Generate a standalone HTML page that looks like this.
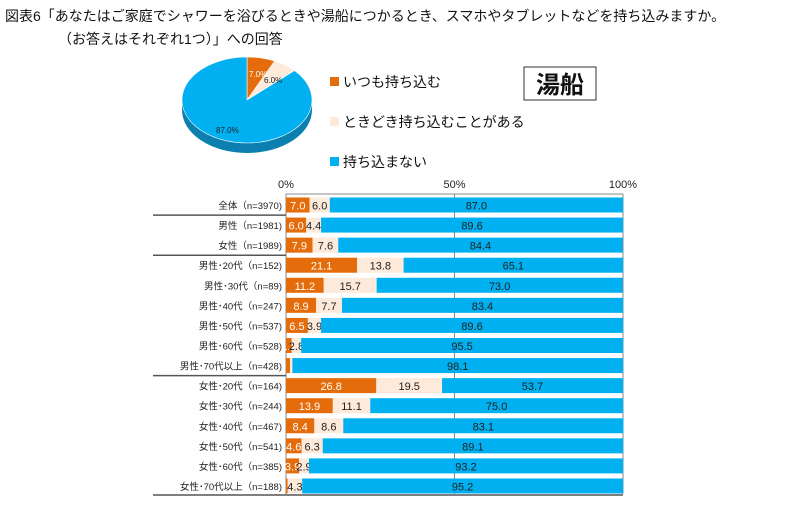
<!DOCTYPE html>
<html><head><meta charset="utf-8">
<style>
body{margin:0;background:#fff;width:808px;height:519px;overflow:hidden;font-family:"Liberation Sans","Noto Sans CJK JP",sans-serif;}
.t{position:absolute;font-size:14px;color:#111;white-space:nowrap}
</style></head><body>
<div class="t" style="left:5px;top:6px">図表6「あなたはご家庭でシャワーを浴びるときや湯船につかるとき、スマホやタブレットなどを持ち込みますか。</div>
<div class="t" style="left:58px;top:29px">（お答えはそれぞれ1つ）」への回答</div>
<svg id="c" width="808" height="519" style="position:absolute;left:0;top:0"></svg>
<script>
const cats=["全体（n=3970)","男性（n=1981)","女性（n=1989)","男性･20代（n=152)","男性･30代（n=89)","男性･40代（n=247)","男性･50代（n=537)","男性･60代（n=528)","男性･70代以上（n=428)","女性･20代（n=164)","女性･30代（n=244)","女性･40代（n=467)","女性･50代（n=541)","女性･60代（n=385)","女性･70代以上（n=188)"];
const always=[7.0,6.0,7.9,21.1,11.2,8.9,6.5,1.7,1.2,26.8,13.9,8.4,4.6,3.9,0.5];
const sometimes=[6.0,4.4,7.6,13.8,15.7,7.7,3.9,2.8,0.7,19.5,11.1,8.6,6.3,2.9,4.3];
const never=[87.0,89.6,84.4,65.1,73.0,83.4,89.6,95.5,98.1,53.7,75.0,83.1,89.1,93.2,95.2];
const ticks=[0,50,100];
const pieVals=[7.0,6.0,87.0];
const legendLabels=["いつも持ち込む","ときどき持ち込むことがある","持ち込まない"];
const colors=["#E46C0A","#FDEADA","#00B0F0"];
const NS="http://www.w3.org/2000/svg",svg=document.getElementById("c");
function el(t,a,p){const e=document.createElementNS(NS,t);for(const k in a)e.setAttribute(k,a[k]);(p||svg).appendChild(e);return e;}
const x=v=>286+v*3.37, y=i=>205+i*20.07;
el("line",{x1:286,y1:194,x2:623,y2:194,stroke:"#888"});
ticks.forEach(t=>{const l=el("line",{x1:x(t),y1:194,x2:x(t),y2:494,stroke:"#888"});
const tx=el("text",{x:x(t),y:188,"text-anchor":"middle","font-size":11,fill:"#222"});tx.textContent=t+"%";});
[1,3,9].forEach(i=>{el("line",{x1:153,y1:y(i)-10,x2:286,y2:y(i)-10,stroke:"#555","stroke-width":1.5});});
el("line",{x1:153,y1:495,x2:623,y2:495,stroke:"#555","stroke-width":1.5});
cats.forEach((c,i)=>{
 const lb=el("text",{x:282,y:y(i)+4,"text-anchor":"end","font-size":9.5,fill:"#222"});lb.textContent=c;
 let acc=0;[always,sometimes,never].forEach((s,k)=>{const v=s[i];
  const r=el("rect",{x:x(acc),y:y(i)-7.5,width:v*3.37,height:15,fill:colors[k]});
  const t=el("text",{x:x(acc+v/2),y:y(i)+4.5,"text-anchor":"middle","font-size":11,fill:k==0?"#fff":"#222"});t.textContent=v.toFixed(1);
  if(v<1.5)t.setAttribute("opacity",0);
  acc+=v;});
});
const cx=247,cy=100,rx=65,ry=43,d=10;
el("ellipse",{cx:cx,cy:cy+d,rx:rx,ry:ry,fill:"#0A7FB0"});
el("rect",{x:cx-rx,y:cy,width:2*rx,height:d,fill:"#0A7FB0"});
let a0=-Math.PI/2;
pieVals.forEach((v,k)=>{const a1=a0+v/100*2*Math.PI;
 const p=`M${cx},${cy} L${cx+rx*Math.cos(a0)},${cy+ry*Math.sin(a0)} A${rx},${ry} 0 ${v>50?1:0} 1 ${cx+rx*Math.cos(a1)},${cy+ry*Math.sin(a1)} Z`;
 const s=el("path",{d:p,fill:colors[k],stroke:"#fff","stroke-width":0.6});a0=a1;});
[[249,77,"7.0%"],[264,83,"6.0%"],[216,133,"87.0%"]].forEach((q,i)=>{const t=el("text",{x:q[0],y:q[1],"font-size":8,fill:i==0?"#fff":"#222"});t.textContent=pieVals[i].toFixed(1)+"%";});
legendLabels.forEach((l,k)=>{const g=el("g",{});
 el("rect",{x:330,y:77+k*40,width:9,height:9,fill:colors[k]},g);
 const t=el("text",{x:343,y:87+k*40,"font-size":14,fill:"#111"},g);t.textContent=l;});
const b=el("rect",{x:524,y:67,width:72,height:33,fill:"#fff",stroke:"#333"});
const bt=el("text",{x:560,y:93,"text-anchor":"middle","font-size":24,"font-weight":"bold",fill:"#111"});bt.textContent="湯船";
</script>
</body></html>
